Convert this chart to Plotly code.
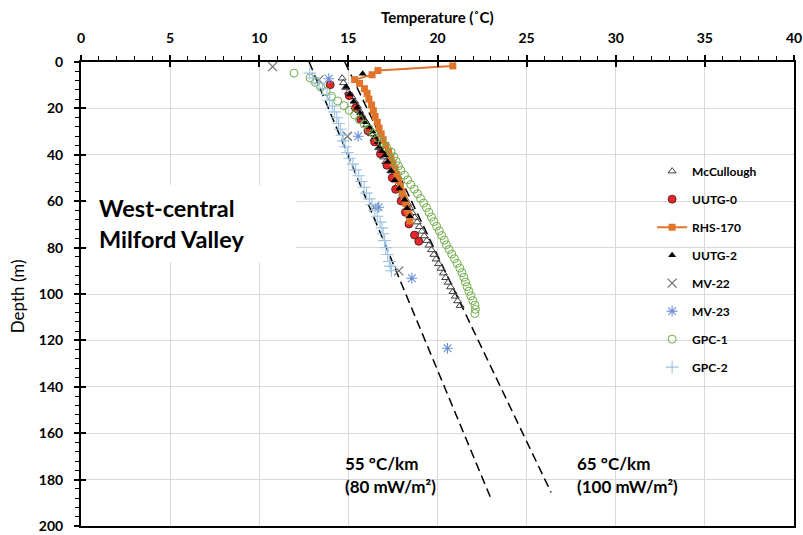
import plotly.graph_objects as go

# ---------------- data (Temperature °C, Depth m) ----------------
mcc_depth = [7, 9, 11, 13, 15, 17, 19, 21, 23, 25, 27, 29, 31, 33, 35, 37, 39, 41, 43, 45,
             47, 49, 51, 53, 55, 57, 59, 61, 63, 65, 67, 69, 71, 73, 75, 77, 79, 81, 83, 85,
             87, 89, 91, 93, 95, 97, 99, 101, 103, 105]
mcc_temp = [14.65, 14.72, 14.85, 15.0, 15.2, 15.35, 15.5, 15.62, 15.76, 15.9, 16.03, 16.17, 16.3, 16.44, 16.57, 16.7, 16.85, 16.98, 17.1, 17.25,
            17.38, 17.5, 17.64, 17.78, 17.9, 18.05, 18.18, 18.32, 18.45, 18.58, 18.72, 18.86, 18.98, 19.12, 19.26, 19.4, 19.52, 19.66, 19.8, 19.92,
            20.06, 20.2, 20.33, 20.46, 20.6, 20.73, 20.87, 21.0, 21.13, 21.27]

uutg0_depth = [9.8, 14.5, 19.8, 24.7, 29.6, 34.4, 39.6, 44.5, 49.9, 54.9, 59.9, 64.8, 69.8, 74.6, 77.3]
uutg0_temp = [13.98, 15.05, 15.4, 15.7, 16.1, 16.47, 16.8, 17.16, 17.46, 17.65, 17.96, 18.2, 18.4, 18.71, 18.95]

rhs_depth = [1.7, 3.7, 5.5, 7.6, 9.2, 11.5, 13.5, 16, 18.5, 21, 23.5, 26, 28.5, 31, 33.5, 36, 38.5,
             41, 43.5, 46, 48.5, 51, 53.5, 56, 58.5, 61, 63.5, 66, 68.5]
rhs_temp = [20.86, 16.66, 16.33, 15.35, 15.63, 15.9, 16.05, 16.15, 16.3, 16.4, 16.5, 16.62, 16.72, 16.84, 16.95, 17.1, 17.25,
            17.38, 17.5, 17.62, 17.72, 17.82, 17.92, 18.02, 18.12, 18.22, 18.32, 18.4, 18.45]

uutg2_depth = [5.1, 10.8, 14, 17, 19.7, 22, 24, 26, 28, 30, 32.3, 34.5, 36.6, 38.5, 40.3, 43, 47, 51, 54.5, 59.4, 63, 66.5]
uutg2_temp = [15.8, 14.88, 15.07, 15.3, 15.5, 15.65, 15.8, 16.0, 16.2, 16.35, 16.5, 16.65, 16.75, 16.9, 17.05, 17.2, 17.4, 17.6, 17.85, 18.15, 18.3, 18.45]

mv22_depth = [2.0, 7.7, 32.0, 62.6, 90.0]
mv22_temp = [10.75, 13.35, 14.95, 16.45, 17.83]

mv23_depth = [7.2, 32.0, 62.6, 93.2, 123.4]
mv23_temp = [13.9, 15.55, 16.7, 18.56, 20.56]

gpc1_depth = [4.8, 6.9, 8.8, 10.8, 12.8, 14.8, 16.8, 18.8, 20.8, 22.8, 24.8, 26.8, 28.8, 30.8, 32.8, 34.8, 36.8, 38.8,
              40.8, 42.8, 44.8, 46.8, 48.8, 50.8, 52.8, 54.8, 56.8, 58.8, 60.8, 62.8, 64.8, 66.8, 68.8, 70.8, 72.8,
              74.8, 76.8, 78.8, 80.8, 82.8, 84.8, 86.8, 88.8, 90.8, 92.8, 94.8, 96.8, 98.8, 100.8, 102.8, 104.8, 106.6, 108.4]
gpc1_temp = [11.95, 12.85, 13.15, 13.45, 13.75, 14.05, 14.4, 14.75, 15.05, 15.35, 15.62, 15.9, 16.15, 16.4, 16.65, 16.9, 17.15, 17.4,
             17.55, 17.68, 17.8, 17.95, 18.15, 18.33, 18.5, 18.7, 18.88, 19.05, 19.22, 19.38, 19.52, 19.66, 19.8, 19.95, 20.1,
             20.24, 20.38, 20.5, 20.65, 20.8, 20.95, 21.1, 21.25, 21.37, 21.48, 21.57, 21.66, 21.76, 21.87, 21.98, 22.1, 22.13, 22.1]

gpc2_depth = [4.8, 6.9, 9.1, 11.5, 14, 16.5, 19, 21.5, 24, 26.5, 29, 31.5, 34, 36.5, 39, 41.5, 44, 46.5, 49,
              51.5, 54, 56.5, 59, 61.5, 64, 66.5, 69, 71.5, 74, 77, 80, 83, 86, 88, 90]
gpc2_temp = [12.83, 13.0, 13.35, 13.55, 13.8, 13.95, 14.1, 14.22, 14.35, 14.45, 14.55, 14.65, 14.72, 14.82, 14.95, 15.07, 15.25, 15.4, 15.58,
             15.72, 15.88, 16.02, 16.18, 16.32, 16.48, 16.62, 16.78, 16.88, 16.95, 17.03, 17.1, 17.2, 17.3, 17.35, 17.42]

# reference gradient lines (end points)
g55_temp = [12.8, 23.06]
g55_depth = [0, 189.3]
g65_temp = [14.8, 26.37]
g65_depth = [0, 185.5]

x_ticks = [0, 5, 10, 15, 20, 25, 30, 35, 40]
y_ticks = [0, 20, 40, 60, 80, 100, 120, 140, 160, 180, 200]

# ---------------- figure ----------------
FONT = "Lato"
fig = go.Figure()

for tx, dy in [(g55_temp, g55_depth), (g65_temp, g65_depth)]:
    fig.add_trace(go.Scatter(x=tx, y=dy, mode="lines", showlegend=False, hoverinfo="skip",
                             line=dict(color="black", width=1.5, dash="9px,5px")))

fig.add_trace(go.Scatter(x=mcc_temp, y=mcc_depth, mode="markers", name="McCullough", legendgroup="a",
                         marker=dict(symbol="triangle-up-open", size=7, color="#404040", line=dict(width=1))))
fig.add_trace(go.Scatter(x=uutg0_temp, y=uutg0_depth, mode="markers", name="UUTG-0", legendgroup="b",
                         marker=dict(symbol="circle", size=8, color="#E8262A", line=dict(width=0.8, color="#3a1a1a"))))
fig.add_trace(go.Scatter(x=rhs_temp, y=rhs_depth, mode="lines+markers", name="RHS-170", legendgroup="c",
                         line=dict(color="#E0742B", width=2),
                         marker=dict(symbol="square", size=7, color="#E0742B")))
fig.add_trace(go.Scatter(x=uutg2_temp, y=uutg2_depth, mode="markers", name="UUTG-2", legendgroup="d",
                         marker=dict(symbol="triangle-up", size=7, color="black")))
fig.add_trace(go.Scatter(x=mv22_temp, y=mv22_depth, mode="markers", name="MV-22", legendgroup="e",
                         marker=dict(symbol="x-thin-open", size=9, color="#707070", line=dict(width=1.2, color="#707070"))))
fig.add_trace(go.Scatter(x=mv23_temp, y=mv23_depth, mode="markers", name="MV-23", legendgroup="f",
                         marker=dict(symbol="asterisk-open", size=9, color="#6A8FD6", line=dict(width=1.1, color="#6A8FD6"))))
fig.add_trace(go.Scatter(x=gpc1_temp, y=gpc1_depth, mode="markers", name="GPC-1", legendgroup="g",
                         marker=dict(symbol="circle-open", size=8, color="#70AD47", line=dict(width=1))))
fig.add_trace(go.Scatter(x=gpc2_temp, y=gpc2_depth, mode="markers", name="GPC-2", legendgroup="h",
                         marker=dict(symbol="cross-thin-open", size=9, color="#9DC3E6", line=dict(width=1.1, color="#9DC3E6"))))

# invisible helper trace for crossing-tick overlay axes
fig.add_trace(go.Scatter(x=[None], y=[None], xaxis="x2", yaxis="y2", showlegend=False, hoverinfo="skip"))

axis_common = dict(showgrid=True, gridcolor="#d9d9d9", gridwidth=1, zeroline=False,
                   showline=True, linecolor="black", linewidth=2, mirror=True,
                   ticks="outside", ticklen=5, tickwidth=1.5, tickcolor="black",
                   tickfont=dict(family=FONT, size=14, color="black", weight="bold"),
                   ticklabeloverflow="allow", automargin=False)

fig.update_layout(
    width=803, height=535,
    margin=dict(l=81, r=9, t=62, b=9),
    plot_bgcolor="white", paper_bgcolor="white",
    font=dict(family=FONT, color="black"),
    xaxis=dict(range=[0, 40], side="top", tickvals=x_ticks, ticklabelstandoff=6,
               minor=dict(dtick=1, tick0=0, ticks="outside", ticklen=4, tickwidth=1, tickcolor="black", showgrid=False),
               **axis_common),
    yaxis=dict(range=[200, 0], tickvals=y_ticks, ticklabelstandoff=8,
               minor=dict(dtick=4, tick0=0, ticks="outside", ticklen=4, tickwidth=1, tickcolor="black", showgrid=False),
               **axis_common),
    xaxis2=dict(range=[0, 40], overlaying="x", side="top", anchor="y2", tickvals=x_ticks, ticks="inside",
                ticklen=5, tickwidth=1.5, tickcolor="black", showticklabels=False, showgrid=False,
                zeroline=False, showline=False),
    yaxis2=dict(range=[200, 0], overlaying="y", side="left", anchor="x2", tickvals=y_ticks, ticks="inside",
                ticklen=5, tickwidth=1.5, tickcolor="black", showticklabels=False, showgrid=False,
                zeroline=False, showline=False),
    legend=dict(x=0.801, y=0.796, xanchor="left", yanchor="top", bgcolor="rgba(0,0,0,0)",
                font=dict(family=FONT, size=12, color="black", weight="bold"),
                tracegroupgap=9, traceorder="grouped", itemwidth=30),
    showlegend=True,
)

fig.add_shape(type="rect", xref="x", yref="y", x0=0.4, x1=12.07, y0=53, y1=86.3,
              fillcolor="white", line=dict(width=0), layer="between")

ann = [
    dict(text="Temperature (˚C)", xref="paper", yref="paper", x=0.5, y=1.0975, xanchor="center", yanchor="middle",
         font=dict(family=FONT, size=15, weight="bold")),
    dict(text="Depth (m)", xref="paper", yref="paper", x=-0.0896, y=0.4955, xanchor="center", yanchor="middle",
         textangle=-90, font=dict(family=FONT, size=17)),
    dict(text="West-central", xref="x", yref="y", x=0.9, y=62.8, xanchor="left", yanchor="middle",
         font=dict(family=FONT, size=23.5, weight="bold")),
    dict(text="Milford Valley", xref="x", yref="y", x=0.9, y=76.5, xanchor="left", yanchor="middle",
         font=dict(family=FONT, size=23.5, weight="bold")),
    dict(text="55 °C/km", xref="x", yref="y", x=14.69, y=173, xanchor="left", yanchor="middle",
         font=dict(family=FONT, size=17, weight="bold")),
    dict(text="(80 mW/m²)", xref="x", yref="y", x=14.69, y=182.9, xanchor="left", yanchor="middle",
         font=dict(family=FONT, size=17, weight="bold")),
    dict(text="65 °C/km", xref="x", yref="y", x=27.69, y=173, xanchor="left", yanchor="middle",
         font=dict(family=FONT, size=17, weight="bold")),
    dict(text="(100 mW/m²)", xref="x", yref="y", x=27.69, y=182.9, xanchor="left", yanchor="middle",
         font=dict(family=FONT, size=17, weight="bold")),
]
for a in ann:
    a["showarrow"] = False
    fig.add_annotation(**a)

fig.write_html("out.html")
